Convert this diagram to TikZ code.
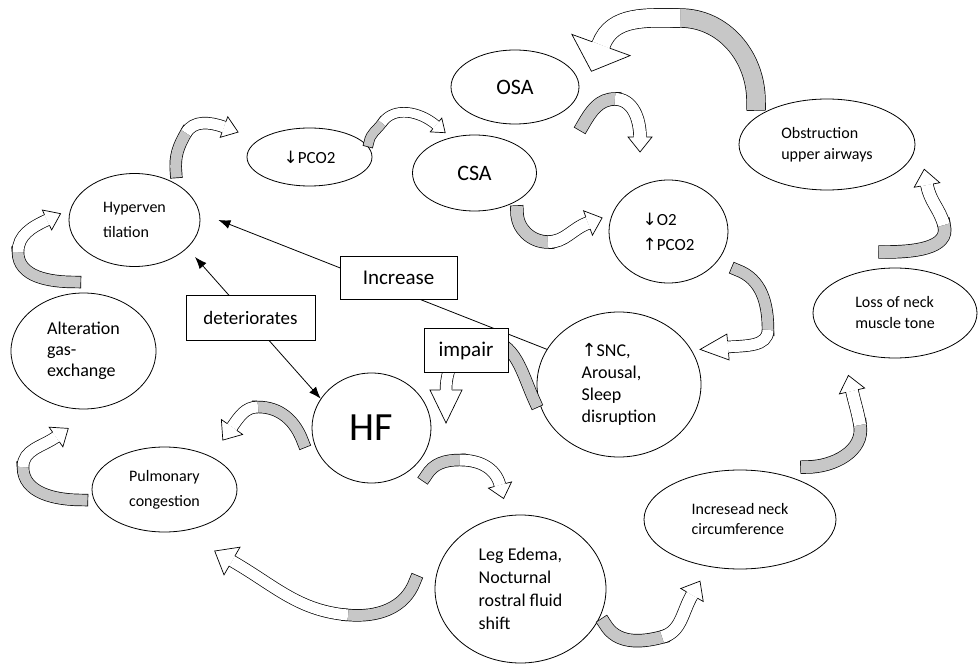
\documentclass[tikz,border=0pt]{standalone}
\usepackage{fontspec}
\setmainfont{Carlito}
\newfontfamily\arrowfont{DejaVu Sans}
\usetikzlibrary{shapes.geometric,arrows.meta,decorations.markings}

\newcommand{\arrup}{{\arrowfont ↑}}
\newcommand{\arrdown}{{\arrowfont ↓}}

\tikzset{
  cyclenode/.style={ellipse, draw, line width=0.8pt, inner sep=0pt, align=left},
  labelbox/.style={draw, fill=white, line width=0.8pt, inner sep=0pt},
  linkline/.style={line width=0.8pt},
  tailband/.style={draw=black, line width=0.7pt, double=black!22, double distance=#1, line cap=rect},
  headband/.style={draw=black, line width=0.7pt, double=white, double distance=#1},
  headtip/.style n args={3}{decoration={markings, mark=at position 0.9999 with {
      \fill[white] (0,-#1) -- (#2,0) -- (0,#1) -- cycle;
      \draw[line width=0.7pt, line join=miter] (0,{#3/2+0.35}) -- (0,#1) -- (#2,0) -- (0,-#1) -- (0,{-#3/2-0.35});}},
    decorate}
}

% curved block arrow: name, tail, tail bend, turn, head bend, head, band, barb, tip
\newcommand{\bentarrow}[9]{%
  \coordinate (#1-t) at (#2);
  \coordinate (#1-m) at (#4);
  \coordinate (#1-h) at (#6);
  \draw[tailband=#7] (#1-t) to[#3] (#1-m);
  \draw[headband=#7] (#1-m) to[#5] (#1-h);
  \path[headtip={#8}{#9}{#7}] (#1-m) to[#5] (#1-h);
}

\begin{document}
\begin{tikzpicture}[x=1pt, y=1pt, >={Latex[length=12pt,width=9pt]}]
\useasboundingbox (0,0) rectangle (980,665);

% stages of the cycle
\node[cyclenode, minimum width=128, minimum height=74, font=\fontsize{22}{26}\selectfont] (osa) at (515,578) {OSA};
\node[cyclenode, minimum width=124, minimum height=76, font=\fontsize{22}{26}\selectfont] (csa) at (474.5,492) {CSA};
\node[cyclenode, minimum width=125, minimum height=58, font=\fontsize{17}{21}\selectfont] (pco) at (309.5,508) {\arrdown PCO2};
\node[cyclenode, minimum width=131, minimum height=93, font=\fontsize{16}{25}\selectfont] (hyper) at (134.5,445) {Hyperven\\tilation};
\node[cyclenode, minimum width=145, minimum height=116, font=\fontsize{18}{21}\selectfont] (alt) at (83.5,314) {Alteration\\gas-\\exchange};
\node[cyclenode, minimum width=119, minimum height=110, font=\fontsize{40}{44}\selectfont] (hf) at (371.5,237) {HF};
\node[cyclenode, minimum width=145, minimum height=85, font=\fontsize{16}{25}\selectfont] (pulm) at (164.5,175.5) {Pulmonary\\congestion};
\node[cyclenode, minimum width=119, minimum height=103, font=\fontsize{17}{25}\selectfont] (otwo) at (668.5,433.5) {\arrdown O2\\\arrup PCO2};
\node[cyclenode, minimum width=176, minimum height=91, font=\fontsize{16}{21}\selectfont] (obst) at (827,520.5) {Obstruction\\upper airways};
\node[cyclenode, minimum width=164, minimum height=90, font=\fontsize{16}{21}\selectfont] (loss) at (895,352) {Loss of neck\\muscle tone};
\node[cyclenode, minimum width=164, minimum height=145, font=\fontsize{18}{22}\selectfont] (snc) at (619,280.5) {\arrup SNC,\\Arousal,\\Sleep\\disruption};
\node[cyclenode, minimum width=171, minimum height=148, font=\fontsize{18}{23}\selectfont] (leg) at (520.5,76) {Leg Edema,\\Nocturnal\\rostral fluid\\shift};
\node[cyclenode, minimum width=192, minimum height=99, font=\fontsize{16}{20}\selectfont] (neck) at (740,145.5) {Incresead neck\\circumference};

% straight links
\coordinate (hyper-tip) at (195,408);
\draw[linkline, ->] (snc.154) -- ([xshift=18pt]hyper.east);
\draw[linkline, <->] (hyper-tip) -- (hf.150);

% curved arrows round the cycle
\bentarrow{alt2hyp}{75,383}{out=180,in=270}{18,413}{out=90,in=205}{47,445}{11}{11}{15}
\bentarrow{hyp2pco}{176,493}{out=95,in=240}{186,532}{out=60,in=160}{224,538}{11}{11}{15}
\bentarrow{pco2csa}{369,523}{out=80,in=235}{382,542}{out=55,in=140}{436,540}{9}{9}{12}
\bentarrow{csa2otwo}{517,453}{out=270,in=180}{548,423}{out=0,in=200}{588,442}{12}{13}{15}
\bentarrow{osa2otwo}{583,540}{out=60,in=180}{615,566}{out=0,in=90}{640,528}{12}{12}{15}
\bentarrow{obst2osa}{756,564}{out=90,in=0}{680,647}{out=180,in=70}{601,620}{18}{31}{28}
\bentarrow{loss2obst}{885,413}{out=0,in=285}{944,440}{out=105,in=280}{927,480}{12}{13}{16}
\bentarrow{neck2loss}{807,198}{out=0,in=280}{860,240}{out=100,in=283}{852,274}{12}{13}{16}
\bentarrow{leg2neck}{605,41}{out=300,in=195}{662,28}{out=15,in=240}{692,70}{12}{13}{16}
\bentarrow{hf2leg}{426,189}{out=60,in=180}{460,205}{out=0,in=105}{500,180}{11}{12}{14}
\bentarrow{leg2pulm}{415,84}{out=250,in=355}{348,50}{out=175,in=330}{232,104}{11}{16}{20}
\bentarrow{hf2pulm}{303,223}{out=110,in=0}{258,258}{out=180,in=55}{232,238}{11}{13}{16}
\bentarrow{pulm2alt}{82,165}{out=180,in=270}{23,198}{out=90,in=215}{56,228}{11}{12}{15}
\bentarrow{snc2hf}{535,263}{out=115,in=0}{485,325}{out=180,in=90}{446,275}{11}{16}{33}
\bentarrow{otwo2snc}{737,395}{out=340,in=90}{768,335}{out=270,in=5}{728,318}{11}{13}{28}

% labels sitting on the links
\node[labelbox, minimum width=117, minimum height=43, font=\fontsize{21}{25}\selectfont] (increase) at (398.5,387.5) {Increase};
\node[labelbox, minimum width=129, minimum height=45, font=\fontsize{19}{23}\selectfont] (deter) at (250.5,347.5) {deteriorates};
\node[labelbox, minimum width=84, minimum height=44, font=\fontsize{21}{25}\selectfont] (impair) at (466,314.5) {impair};
\end{tikzpicture}
\end{document}
